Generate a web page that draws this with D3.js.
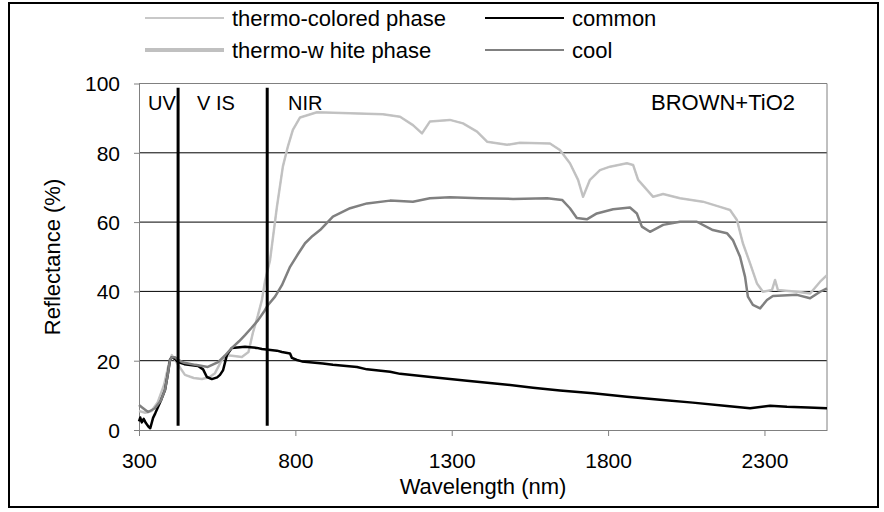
<!DOCTYPE html>
<html>
<head>
<meta charset="utf-8">
<script src="https://cdn.jsdelivr.net/npm/d3@7"></script>
<style>
  body { margin: 0; background: #fff; }
  text { font-family: "Liberation Sans", Arial, sans-serif; fill: #000; }
</style>
</head>
<body>
<svg id="chart" width="884" height="512"></svg>
<script>
// Data (wavelength nm / reflectance %)
const xTicks = [300, 800, 1300, 1800, 2300];
const yTicks = [0, 20, 40, 60, 80, 100];
const regionBounds = [425, 710];

const whiteWl = [300,320,340,360,380,395,405,420,447,475,501,525,543,565,584,610,629,650,664,680,693,703,719,741,760,776,792,815,869,975,1080,1135,1176,1205,1230,1294,1336,1381,1413,1477,1518,1614,1646,1678,1704,1720,1742,1774,1806,1860,1880,1896,1944,1976,2030,2103,2158,2190,2212,2231,2254,2276,2295,2324,2334,2343,2404,2446,2478,2500];
const whiteVal = [5.5,5,5.5,8,13,19,21.6,19.5,15.9,15,14.7,15.2,16.4,20.2,21.6,21.3,21.1,22.5,28,33,37.5,43,49,64.4,76,81.8,86.6,90.2,91.7,91.4,91.1,90.4,88,85.6,89,89.5,88.5,86.1,83.2,82.3,82.9,82.7,80.8,77,72.2,67.3,72.2,75,76,77,76.5,72.2,67.3,68.1,66.9,65.9,64.4,63.5,60.6,53.9,48.1,42.3,39.9,40.4,43.3,40.4,39.9,39.4,42.8,44.7];

const coloredWl = [300,320,340,360,380,395,405,420,447,475,501,525,543,565,584,610,629,650,664,680,693,703,719,741,760,776,792,815,869,975,1080,1135,1176,1205,1230,1294,1336,1381,1413,1477,1518,1614,1646,1678,1704,1720,1742,1774,1806,1860,1880,1896,1944,1976,2030,2103,2158,2190,2212,2231,2254,2276,2295,2324,2334,2343,2404,2446,2478,2500];
const coloredVal = [5.5,5,5.5,8,13,19,21.6,19.5,15.9,15,14.7,15.2,16.4,20.2,21.6,21.3,21.1,22.5,28,33,37.5,43,49,64.4,76,81.8,86.6,90.2,91.7,91.4,91.1,90.4,88,85.6,89,89.5,88.5,86.1,83.2,82.3,82.9,82.7,80.8,77,72.2,67.3,72.2,75,76,77,76.5,72.2,67.3,68.1,66.9,65.9,64.4,63.5,60.6,53.9,48.1,42.3,39.9,40.4,43.3,40.4,39.9,39.4,42.8,44.7];

const commonWl = [300,304,309,315,322,330,336,345,352,370,383,392,399,405,415,425,445,489,505,517,533,550,559,569,581,597,639,677,693,741,757,783,789,805,821,888,920,997,1029,1103,1135,1240,1349,1454,1560,1646,1752,1860,1966,2071,2180,2254,2318,2372,2440,2500];
const commonVal = [2.5,3.6,2.2,3.2,2,1,0.5,3.5,4.8,8.5,11.5,16,20.2,21,20.5,19.6,19,18.5,17.5,15.3,14.7,15.2,15.9,17.3,21.6,23.7,24,23.7,23.4,22.9,22.5,22.1,20.8,20.2,19.8,19.2,18.8,18.2,17.5,16.8,16.2,15.2,14.2,13.3,12.2,11.4,10.6,9.6,8.7,7.9,6.9,6.3,7,6.7,6.5,6.3];

const coolWl = [300,310,329,350,370,383,392,399,405,415,425,445,480,520,553,575,597,620,639,660,681,700,712,735,757,783,810,831,855,879,920,975,1029,1103,1176,1230,1294,1390,1496,1605,1653,1678,1700,1732,1764,1816,1870,1892,1908,1934,1976,2030,2084,2135,2180,2199,2222,2238,2247,2263,2286,2308,2327,2404,2446,2478,2500];
const coolVal = [7.2,6.5,5.2,6.2,8.5,11.5,16,20.2,21,21,20.2,19.4,18.8,18.2,19.6,21.5,23.7,25.6,27.4,29.5,31.7,34.2,36,38.5,41.8,47.1,51,53.9,56,57.7,61.6,64,65.4,66.2,65.9,66.9,67.2,66.9,66.7,66.9,66.4,64,61.2,60.8,62.5,63.7,64.2,62.5,58.7,57.2,59.2,60.1,60.1,57.7,56.8,54.8,50,44.2,38.5,36.1,35.1,37.5,38.7,39,38,39.9,40.9];

const svg = d3.select("#chart");

const x = d3.scaleLinear().domain([300, 2500]).range([139, 827]);
const y = d3.scaleLinear().domain([0, 100]).range([430, 83.5]);

// outer frame
svg.append("rect")
  .attr("x", 9).attr("y", 3).attr("width", 869).attr("height", 504)
  .attr("fill", "none").attr("stroke", "#000").attr("stroke-width", 2);

// gridlines
svg.append("g").selectAll("line")
  .data(yTicks.filter(d => d > 0 && d < 100))
  .enter().append("line")
  .attr("x1", x(300)).attr("x2", x(2500))
  .attr("y1", d => y(d)).attr("y2", d => y(d))
  .attr("stroke", "#000").attr("stroke-width", 1);

// plot frame top + right
svg.append("path")
  .attr("d", `M${x(300)},${y(100)}H${x(2500)}V${y(0)}`)
  .attr("fill", "none").attr("stroke", "#808080").attr("stroke-width", 1);

// axes
const xAxis = svg.append("g")
  .attr("transform", `translate(0,${y(0)})`)
  .call(d3.axisBottom(x).tickValues(xTicks).tickSize(6).tickSizeOuter(0).tickFormat(d3.format("d")));
const yAxis = svg.append("g")
  .attr("transform", `translate(${x(300)},0)`)
  .call(d3.axisLeft(y).tickValues(yTicks).tickSize(5).tickSizeOuter(0));

[xAxis, yAxis].forEach(g => {
  g.select(".domain").attr("stroke", "#808080");
  g.selectAll(".tick line").attr("stroke", "#808080");
  g.selectAll("text").attr("font-size", 21).attr("font-family", '"Liberation Sans", Arial, sans-serif');
});
xAxis.selectAll("text").attr("y", 23).attr("dy", "0.71em");
yAxis.selectAll("text").attr("x", -19).attr("dy", "0.35em");

// axis titles
svg.append("text")
  .attr("x", 483).attr("y", 494)
  .attr("text-anchor", "middle").attr("font-size", 22)
  .text("Wavelength (nm)");
svg.append("text")
  .attr("transform", "translate(60,257) rotate(-90)")
  .attr("text-anchor", "middle").attr("font-size", 22)
  .text("Reflectance (%)");

// curves
const line = d3.line().x(d => x(d[0])).y(d => y(d[1]));
const series = [
  {wl: whiteWl, val: whiteVal, color: "#c8c8c8", width: 2.5},
  {wl: coloredWl, val: coloredVal, color: "#c0c0c0", width: 1.5},
  {wl: commonWl, val: commonVal, color: "#000", width: 2.5},
  {wl: coolWl, val: coolVal, color: "#808080", width: 2.5}
];
series.forEach(s => {
  svg.append("path")
    .datum(d3.zip(s.wl, s.val))
    .attr("d", line)
    .attr("fill", "none")
    .attr("stroke", s.color)
    .attr("stroke-width", s.width)
    .attr("stroke-linejoin", "round");
});

// region separators
svg.append("g").selectAll("line")
  .data(regionBounds)
  .enter().append("line")
  .attr("x1", d => x(d)).attr("x2", d => x(d))
  .attr("y1", y(98.8)).attr("y2", y(1.2))
  .attr("stroke", "#000").attr("stroke-width", 3);

// region labels
svg.append("text").attr("x", 148).attr("y", 110).attr("font-size", 20).text("UV");
svg.append("text").attr("x", 197).attr("y", 110).attr("font-size", 20).text("V IS");
svg.append("text").attr("x", 288).attr("y", 110).attr("font-size", 20).text("NIR");
svg.append("text").attr("x", 795).attr("y", 110).attr("text-anchor", "end").attr("font-size", 22).text("BROWN+TiO2");

// legend
const legend = [
  {label: "thermo-colored phase", color: "#c8c8c8", width: 2, lx: 145, ly: 18},
  {label: "thermo-w hite phase", color: "#c0c0c0", width: 4, lx: 145, ly: 50},
  {label: "common", color: "#000", width: 2, lx: 485, ly: 18},
  {label: "cool", color: "#808080", width: 2, lx: 485, ly: 50}
];
const lg = svg.append("g").selectAll("g").data(legend).enter().append("g");
lg.append("line")
  .attr("x1", d => d.lx).attr("x2", d => d.lx + 79)
  .attr("y1", d => d.ly).attr("y2", d => d.ly)
  .attr("stroke", d => d.color).attr("stroke-width", d => d.width);
lg.append("text")
  .attr("x", d => d.lx + 87).attr("y", d => d.ly).attr("dy", "0.35em")
  .attr("font-size", 22)
  .text(d => d.label);
</script>
</body>
</html>
